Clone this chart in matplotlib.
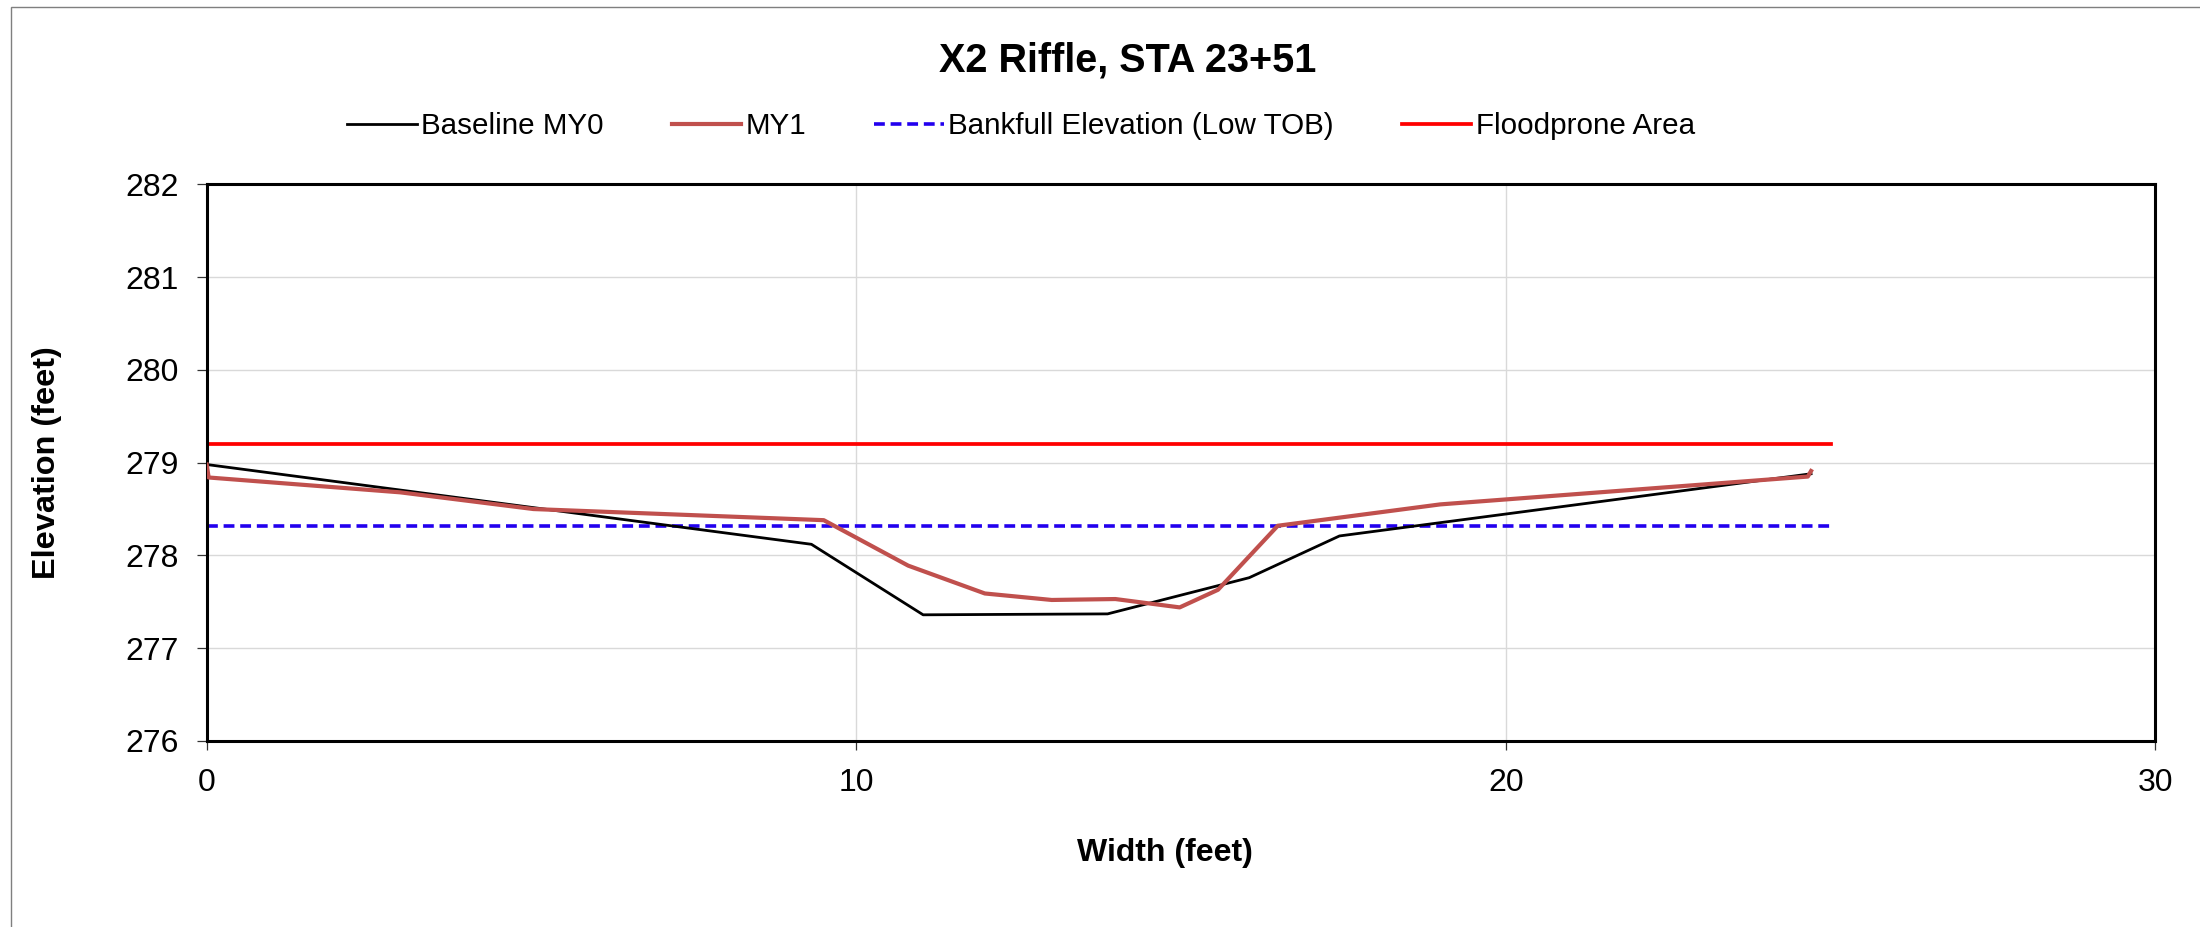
import matplotlib
matplotlib.use("Agg")
import matplotlib.pyplot as plt
from matplotlib.patches import Rectangle

plt.rcParams['font.family'] = ['Liberation Sans', 'DejaVu Sans']

title = "X2 Riffle, STA 23+51"
x_label = "Width (feet)"
y_label = "Elevation (feet)"

base_x = [0, 9.31, 11.03, 13.87, 16.05, 17.44, 24.7]
base_y = [278.98, 278.12, 277.36, 277.37, 277.76, 278.21, 278.88]

my1_x = [0, 0.03, 2.98, 5.03, 9.5, 10.8, 11.98, 13.01, 13.99, 14.98, 15.57, 16.49, 18.99, 24.65, 24.7]
my1_y = [278.98, 278.84, 278.68, 278.50, 278.38, 277.89, 277.59, 277.52, 277.53, 277.44, 277.63, 278.32, 278.55, 278.85, 278.91]

bankfull_x = [0, 25]
bankfull_y = [278.32, 278.32]

flood_x = [0, 25]
flood_y = [279.2, 279.2]

x_ticks = [0, 10, 20, 30]
y_ticks = [276, 277, 278, 279, 280, 281, 282]

W, H, DPI = 2200, 927, 100
fig = plt.figure(figsize=(W / DPI, H / DPI), dpi=DPI)
fig.patch.set_facecolor('white')

# outer chart border (partly clipped in reference)
fig.patches.append(Rectangle((11 / W, -0.1), 1.2, (927 - 7) / H + 0.1 - 1e-4,
                             transform=fig.transFigure, fill=False,
                             edgecolor='#7f7f7f', linewidth=1.0))

ax = fig.add_axes([206.7 / W, (927 - 741) / H, (2155.3 - 206.7) / W, (741 - 184.3) / H])

ax.plot(base_x, base_y, color='black', lw=2.0, label='Baseline MY0', zorder=3)
ax.plot(my1_x, my1_y, color='#C0504D', lw=3.0, label='MY1', zorder=4)
ax.plot(bankfull_x, bankfull_y, color='#2200EE', lw=2.6, ls=(0, (3.0, 1.6)),
        label='Bankfull Elevation (Low TOB)', zorder=2)
ax.plot(flood_x, flood_y, color='#FF0000', lw=2.7, label='Floodprone Area', zorder=2)

ax.set_xlim(0, 30)
ax.set_ylim(276, 282)
ax.set_xticks(x_ticks)
ax.set_yticks(y_ticks)
ax.grid(True, color='#D9D9D9', lw=1.0)
ax.set_axisbelow(True)
for s in ax.spines.values():
    s.set_linewidth(2.2)
    s.set_color('black')
ax.tick_params(axis='both', direction='out', width=0.9, color='#333333', labelsize=23)
ax.tick_params(axis='y', length=7.2, pad=13)
ax.tick_params(axis='x', length=6.5, pad=13)

fig.text(1128 / W, 1 - 61 / H, title, ha='center', va='center', fontsize=28.5, fontweight='bold')
fig.text(1165 / W, 1 - 853 / H, x_label, ha='center', va='center', fontsize=23, fontweight='bold')
fig.text(47 / W, 1 - ((184 + 741) / 2) / H, y_label, ha='center', va='center', fontsize=23.4,
         fontweight='bold', rotation=90)

leg = fig.legend(loc='center', bbox_to_anchor=(1021 / W, 1 - 126 / H), ncol=4, frameon=False,
                 fontsize=21.3, handlelength=2.35, handletextpad=0.15, columnspacing=2.3)

fig.savefig('out.png', dpi=DPI, facecolor='white')
